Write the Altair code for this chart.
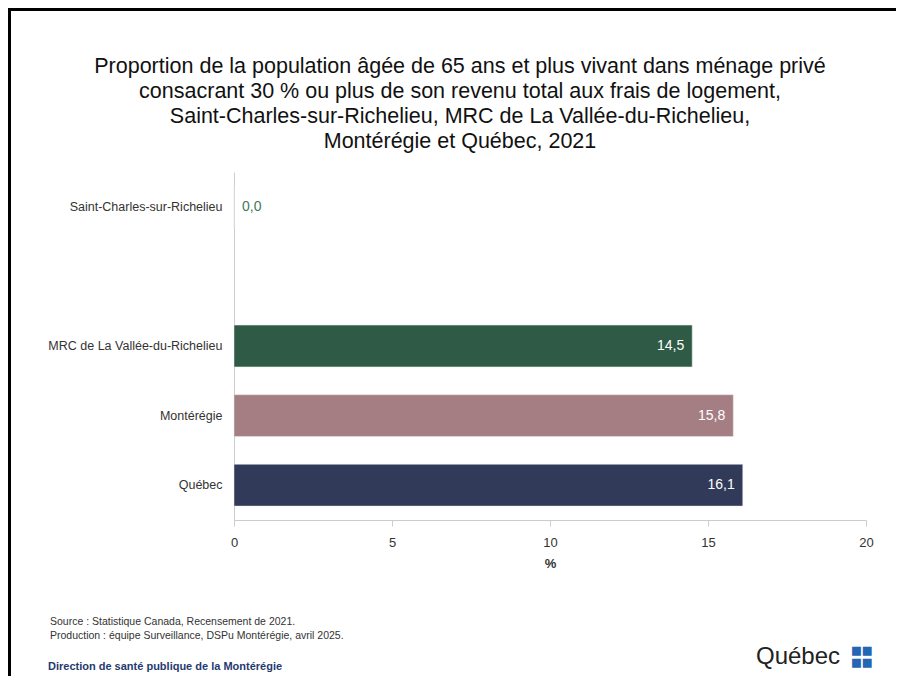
import altair as alt
import pandas as pd

categories = ["Saint-Charles-sur-Richelieu", "MRC de La Vallée-du-Richelieu", "Montérégie", "Québec"]
values = [0.0, 14.5, 15.8, 16.1]
colors = ["#2f5b46", "#2f5b46", "#a57e84", "#313a58"]
domain_order = ["Saint-Charles-sur-Richelieu", " ", "MRC de La Vallée-du-Richelieu", "Montérégie", "Québec"]
x_ticks = [0, 5, 10, 15, 20]
title_lines = [
    "Proportion de la population âgée de 65 ans et plus vivant dans ménage privé",
    "consacrant 30 % ou plus de son revenu total aux frais de logement,",
    "Saint-Charles-sur-Richelieu, MRC de La Vallée-du-Richelieu,",
    "Montérégie et Québec, 2021",
]
source_lines = [
    "Source : Statistique Canada, Recensement de 2021.",
    "Production : équipe Surveillance, DSPu Montérégie, avril 2025.",
]
footer_org = "Direction de santé publique de la Montérégie"

FONT = "Liberation Sans, Arial, sans-serif"
NARROW = "Liberation Sans Narrow, Arial Narrow, Liberation Sans, sans-serif"

df = pd.DataFrame({"cat": categories, "value": values, "color": colors})
df["label"] = [f"{v:.1f}".replace(".", ",") for v in values]

W, H = 632, 348
PAD_L, PAD_T = 226, 164

y_enc = alt.Y("cat:N", sort=domain_order,
              scale=alt.Scale(domain=domain_order, paddingInner=0.4, paddingOuter=0.2),
              axis=alt.Axis(title=None, ticks=False, labelPadding=12, labelFontSize=12.5,
                            labelColor="#333333", labelFont=FONT, domainColor="#cccccc",
                            labelLimit=300))
x_enc = alt.X("value:Q", scale=alt.Scale(domain=[0, 20], nice=False),
              axis=alt.Axis(values=x_ticks, title="%", grid=False, tickSize=6,
                            tickColor="#cccccc", domainColor="#cccccc", labelFontSize=13,
                            labelColor="#333333", labelFont=FONT, labelPadding=10,
                            labelFlush=False,
                            titleFont=FONT, titleFontSize=13, titleFontWeight="bold",
                            titleColor="#333333", titlePadding=8))

base = alt.Chart(df)
bars = base.mark_bar(stroke="#e8e8e8", strokeWidth=0.5).encode(
    x=x_enc, y=y_enc, color=alt.Color("color:N", scale=None))
inside = base.transform_filter("datum.value > 1").mark_text(
    align="right", dx=-8, color="white", fontSize=14, font=FONT).encode(
    x="value:Q", y=alt.Y("cat:N", sort=domain_order), text="label:N")
outside = base.transform_filter("datum.value <= 1").mark_text(
    align="left", dx=8, color="#3f7a58", fontSize=14, font=FONT).encode(
    x="value:Q", y=alt.Y("cat:N", sort=domain_order), text="label:N")

one = pd.DataFrame({"k": [0]})
frame_left = alt.Chart(one).mark_rule(color="black", strokeWidth=3).encode(
    x=alt.value(-PAD_L + 1.5), y=alt.value(-PAD_T), y2=alt.value(520))
frame_top = alt.Chart(one).mark_rule(color="black", strokeWidth=3).encode(
    x=alt.value(-PAD_L), x2=alt.value(700), y=alt.value(-PAD_T + 1.5))

title_df = pd.DataFrame({"t": title_lines, "i": list(range(len(title_lines)))})
title = alt.Chart(title_df).transform_calculate(yy="-105 + datum.i * 25").mark_text(
    align="center", baseline="middle", fontSize=21.5, font=FONT, color="#111111").encode(
    x=alt.value(226), y=alt.Y("yy:Q", scale=None), text="t:N")

src_df = pd.DataFrame({"t": source_lines, "i": [0, 1]})
src = alt.Chart(src_df).transform_calculate(yy="450 + datum.i * 14").mark_text(
    align="left", baseline="middle", fontSize=10.5, font=NARROW, color="#333333").encode(
    x=alt.value(-184), y=alt.Y("yy:Q", scale=None), text="t:N")
org = alt.Chart(pd.DataFrame({"t": [footer_org]})).mark_text(
    align="left", baseline="middle", fontSize=11, font=NARROW, fontWeight="bold",
    color="#1f3a70").encode(x=alt.value(-186), y=alt.value(495), text="t:N")
logo = alt.Chart(pd.DataFrame({"t": ["Québec"]})).mark_text(
    align="left", baseline="middle", fontSize=24, font=FONT, color="#222222").encode(
    x=alt.value(522), y=alt.value(485), text="t:N")
flag = alt.Chart(pd.DataFrame({"t": ["■■|■■"]})).mark_text(
    align="left", baseline="middle", fontSize=11.5, font="DejaVu Sans", color="#2466b3",
    lineBreak="|", lineHeight=12).encode(
    x=alt.value(617), y=alt.value(479), text="t:N")

chart = alt.layer(bars, inside, outside, frame_left, frame_top, title, src, org, logo, flag).properties(
    width=W, height=H,
    autosize=alt.AutoSizeParams(type="none"),
    padding={"left": PAD_L, "top": PAD_T, "right": 888 - PAD_L - W, "bottom": 668 - PAD_T - H},
).configure(background="white").configure_view(stroke=None)

chart.save("out.html", embed_options={"renderer": "svg", "actions": False})
